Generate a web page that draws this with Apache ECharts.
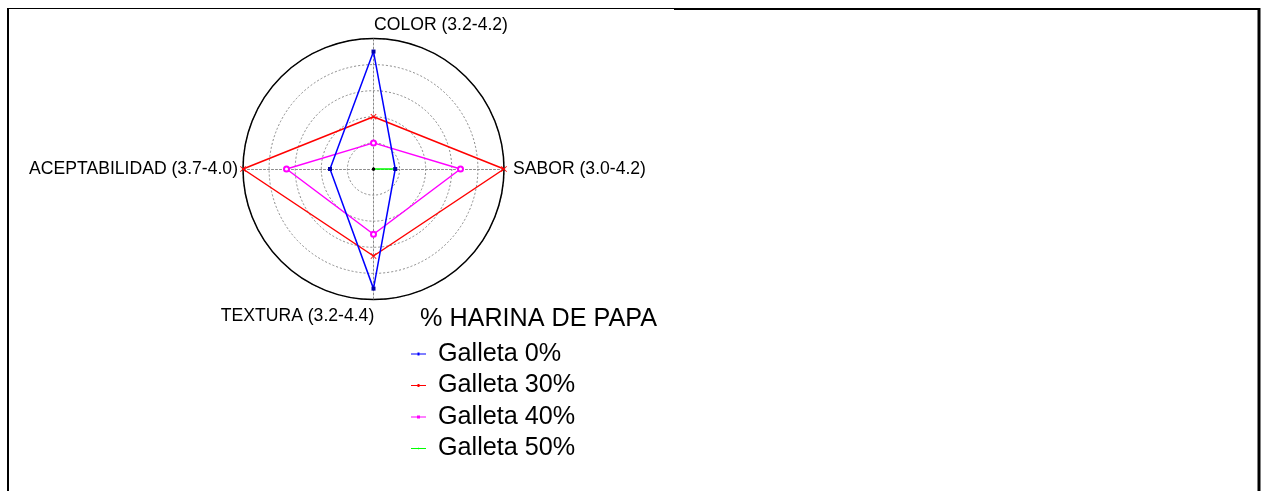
<!DOCTYPE html>
<html>
<head>
<meta charset="utf-8">
<script src="https://cdn.jsdelivr.net/npm/echarts@6/dist/echarts.min.js"></script>
<style>
html,body{margin:0;padding:0;background:#fff;}
#chart{width:1262px;height:491px;}
</style>
</head>
<body>
<div id="chart"></div>
<script>
// Indicators (counter-clockwise from top)
const indicatorNames = ['COLOR (3.2-4.2)', 'ACEPTABILIDAD (3.7-4.0)', 'TEXTURA (3.2-4.4)', 'SABOR (3.0-4.2)'];
const indicatorMin = [3.2, 3.7, 3.2, 3.0];
const indicatorMax = [4.2, 4.0, 4.4, 4.2];

const legendTitle = '% HARINA DE PAPA';
const seriesNames = ['Galleta 0%', 'Galleta 30%', 'Galleta 40%', 'Galleta 50%'];
const galleta0  = [4.1, 3.8, 4.3, 3.2];
const galleta30 = [3.6, 4.0, 4.0, 4.2];
const galleta40 = [3.4, 3.9, 3.8, 3.8];
const galleta50 = [3.2, 3.7, 3.2, 3.2];

const FONT = '"Liberation Sans", Arial, sans-serif';
const AXFS = 17.6;
const LGFS = 25.2;
const indicators = indicatorNames.map((n, i) => ({ name: n, min: indicatorMin[i], max: indicatorMax[i] }));

const seriesData = [galleta0, galleta30, galleta40, galleta50];
const colors = ['#0000ff', '#ff0000', '#ff00ff', '#00ff00'];
const symbols = [
  'rect',
  'path://M0,1L1,0L5,4L9,0L10,1L6,5L10,9L9,10L5,6L1,10L0,9L4,5Z',
  'emptyCircle',
  'circle'
];
const symbolSizes = [4, 6, 5, 3];
const symbolColors = ['#0000aa', '#ff0000', '#ff00ff', '#000000'];
const legendIcons = [
  'path://M0,2.6L15,2.6L15,3.4L0,3.4Z M6.5,1.5L8.5,1.5L8.5,4.5L6.5,4.5Z',
  'path://M0,2.6L15,2.6L15,3.4L0,3.4Z M6.5,1.5L8.5,1.5L8.5,4.5L6.5,4.5Z',
  'path://M0,2.6L15,2.6L15,3.4L0,3.4Z M6,1.5L9,1.5L9,4.5L6,4.5Z',
  'path://M0,2.6L15,2.6L15,3.4L0,3.4Z M7,2.2L8,2.2L8,3.8L7,3.8Z'
];

const chart = echarts.init(document.getElementById('chart'), null, { renderer: 'canvas' });

const option = {
  animation: false,
  backgroundColor: '#ffffff',
  title: {
    text: legendTitle,
    left: 420,
    top: 307,
    padding: 0,
    textStyle: { fontFamily: FONT, fontSize: LGFS, fontWeight: 'normal', color: '#000' }
  },
  legend: {
    orient: 'vertical',
    left: 411,
    top: 341.5,
    padding: 0,
    itemGap: 6.5,
    itemWidth: 15,
    itemHeight: 5,
    selectedMode: false,
    textStyle: { fontFamily: FONT, fontSize: LGFS, color: '#000', lineHeight: 25, padding: [0, 0, 0, 7] },
    data: seriesNames.map((n, i) => ({
      name: n,
      icon: legendIcons[i],
      itemStyle: { color: colors[i], borderWidth: 0, borderColor: colors[i] }
    }))
  },
  radar: [
    {
      center: [373.5, 169],
      radius: 130.5,
      shape: 'circle',
      splitNumber: 5,
      startAngle: 90,
      indicator: indicators,
      axisName: {
        color: '#000',
        fontFamily: FONT,
        fontSize: AXFS,
        formatter: function (value) {
          if (value === indicatorNames[0]) return '{t|' + value + '}';
          if (value === indicatorNames[1]) return '{w|' + value + '}';
          if (value === indicatorNames[2]) return '{b|' + value + '}';
          return '{e|' + value + '}';
        },
        rich: {
          t: { fontFamily: FONT, fontSize: AXFS, color: '#000', padding: [0, 0, 0, 135] },
          w: { fontFamily: FONT, fontSize: AXFS, color: '#000', padding: [0, 1, 0, 0] },
          b: { fontFamily: FONT, fontSize: AXFS, color: '#000', padding: [4, 152, 0, 0] },
          e: { fontFamily: FONT, fontSize: AXFS, color: '#000', padding: [0, 0, 0, 5] }
        }
      },
      nameGap: 4,
      axisLine: { show: true, lineStyle: { color: '#8a8a8a', width: 1, type: [2, 2] } },
      axisTick: { show: false },
      axisLabel: { show: false },
      splitLine: { show: true, lineStyle: { color: '#8a8a8a', width: 1, type: [2, 2] } },
      splitArea: { show: false }
    },
    {
      center: [373.5, 169],
      radius: 130.5,
      shape: 'circle',
      splitNumber: 1,
      startAngle: 90,
      indicator: indicators,
      axisName: { show: false },
      axisLine: { show: false },
      axisTick: { show: false },
      axisLabel: { show: false },
      splitLine: { show: true, lineStyle: { color: '#000', width: 1.5 } },
      splitArea: { show: false }
    }
  ],
  series: seriesData.map((vals, i) => ({
    type: 'radar',
    radarIndex: 0,
    name: seriesNames[i],
    symbol: symbols[i],
    symbolSize: symbolSizes[i],
    z: 10 - i,
    lineStyle: { color: colors[i], width: 1.5 },
    itemStyle: { color: symbolColors[i], borderColor: symbolColors[i], borderWidth: i === 2 ? 1 : 0 },
    data: [{ value: vals, name: seriesNames[i] }]
  })),
  graphic: [
    { type: 'line', shape: { x1: 8, y1: 8.5, x2: 674, y2: 8.5 }, style: { stroke: '#000', lineWidth: 1 } },
    { type: 'line', shape: { x1: 674, y1: 9, x2: 1260, y2: 9 }, style: { stroke: '#000', lineWidth: 2 } },
    { type: 'line', shape: { x1: 8, y1: 8, x2: 8, y2: 491 }, style: { stroke: '#000', lineWidth: 2 } },
    { type: 'line', shape: { x1: 1259, y1: 8, x2: 1259, y2: 491 }, style: { stroke: '#000', lineWidth: 3 } }
  ]
};
chart.setOption(option);
</script>
</body>
</html>
